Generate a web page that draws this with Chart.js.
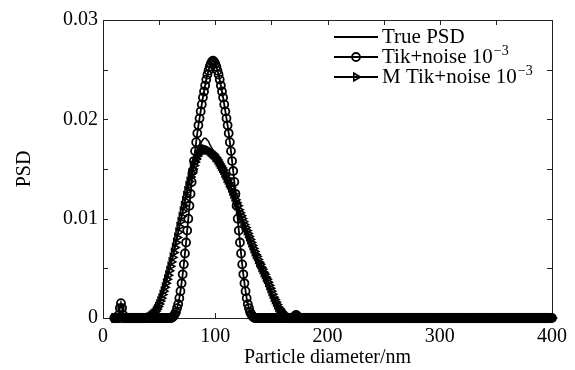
<!DOCTYPE html>
<html>
<head>
<meta charset="utf-8">
<script src="https://cdn.jsdelivr.net/npm/chart.js@4.4.1/dist/chart.umd.min.js"></script>
<style>
  body { margin: 0; background: #fff; }
  #wrap { width: 575px; height: 370px; }
</style>
</head>
<body>
<div id="wrap"><canvas id="psdChart" width="575" height="370"></canvas></div>
<script>
// particle diameter grid (nm)
const diameters = [
  10,11,12,13,14,15,16,17,18,19, 20,21,22,23,24,25,26,27,28,29,
  30,31,32,33,34,35,36,37,38,39, 40,41,42,43,44,45,46,47,48,49,
  50,51,52,53,54,55,56,57,58,59, 60,61,62,63,64,65,66,67,68,69,
  70,71,72,73,74,75,76,77,78,79, 80,81,82,83,84,85,86,87,88,89,
  90,91,92,93,94,95,96,97,98,99, 100,101,102,103,104,105,106,107,108,109,
  110,111,112,113,114,115,116,117,118,119, 120,121,122,123,124,125,126,127,128,129,
  130,131,132,133,134,135,136,137,138,139, 140,141,142,143,144,145,146,147,148,149,
  150,151,152,153,154,155,156,157,158,159, 160,161,162,163,164,165,166,167,168,169,
  170,171,172,173,174,175,176,177,178,179, 180,181,182,183,184,185,186,187,188,189,
  190,191,192,193,194,195,196,197,198,199, 200,201,202,203,204,205,206,207,208,209,
  210,211,212,213,214,215,216,217,218,219, 220,221,222,223,224,225,226,227,228,229,
  230,231,232,233,234,235,236,237,238,239, 240,241,242,243,244,245,246,247,248,249,
  250,251,252,253,254,255,256,257,258,259, 260,261,262,263,264,265,266,267,268,269,
  270,271,272,273,274,275,276,277,278,279, 280,281,282,283,284,285,286,287,288,289,
  290,291,292,293,294,295,296,297,298,299, 300,301,302,303,304,305,306,307,308,309,
  310,311,312,313,314,315,316,317,318,319, 320,321,322,323,324,325,326,327,328,329,
  330,331,332,333,334,335,336,337,338,339, 340,341,342,343,344,345,346,347,348,349,
  350,351,352,353,354,355,356,357,358,359, 360,361,362,363,364,365,366,367,368,369,
  370,371,372,373,374,375,376,377,378,379, 380,381,382,383,384,385,386,387,388,389,
  390,391,392,393,394,395,396,397,398,399, 400
];

const truePsd = [
  0,0,0,0,0,0,0,0,0,0,  // 10
  0,0,0,0,0,0,0,0,0,0,  // 20
  0,0,0,0,0,0,0,0,0,0,  // 30
  0,0.00005,0.0001,0.0002,0.0003,0.0004,0.0005,0.0007,0.0009,0.00115,  // 40
  0.0014,0.0017,0.0020,0.00235,0.0027,0.0031,0.0035,0.0039,0.0043,0.00475,  // 50
  0.0052,0.00565,0.0061,0.0066,0.0071,0.0076,0.0081,0.00865,0.0092,0.0097,  // 60
  0.0102,0.01075,0.0113,0.0118,0.0123,0.0128,0.0133,0.01375,0.0142,0.0146,  // 70
  0.0150,0.01535,0.0157,0.0160,0.0166,0.0169,0.0173,0.0175,0.0178,0.01795,  // 80
  0.0181,0.0181,0.01805,0.0179,0.0178,0.0175,0.0173,0.0171,0.0169,0.0167,  // 90
  0.0164,0.0162,0.0159,0.0157,0.0155,0.0153,0.0151,0.0149,0.0146,0.0144,  // 100
  0.0141,0.0139,0.0136,0.0134,0.0131,0.0128,0.0125,0.0122,0.0119,0.0116,  // 110
  0.0113,0.0109,0.0106,0.0103,0.0100,0.0097,0.0094,0.0091,0.0088,0.0085,  // 120
  0.0082,0.0079,0.0076,0.0073,0.0070,0.0067,0.0064,0.0062,0.0059,0.0056,  // 130
  0.0054,0.0051,0.0049,0.0046,0.0044,0.0041,0.0039,0.0036,0.0033,0.0030,  // 140
  0.0027,0.0024,0.0021,0.00185,0.0016,0.00135,0.0011,0.00095,0.0008,0.00065,  // 150
  0.0005,0.0004,0.0003,0.0002,0.0001,0.00005,0,0,0,0,  // 160
  0,0,0,0,0,0,0,0,0,0,  // 170
  0,0,0,0,0,0,0,0,0,0,  // 180
  0,0,0,0,0,0,0,0,0,0,  // 190
  0,0,0,0,0,0,0,0,0,0,  // 200
  0,0,0,0,0,0,0,0,0,0,  // 210
  0,0,0,0,0,0,0,0,0,0,  // 220
  0,0,0,0,0,0,0,0,0,0,  // 230
  0,0,0,0,0,0,0,0,0,0,  // 240
  0,0,0,0,0,0,0,0,0,0,  // 250
  0,0,0,0,0,0,0,0,0,0,  // 260
  0,0,0,0,0,0,0,0,0,0,  // 270
  0,0,0,0,0,0,0,0,0,0,  // 280
  0,0,0,0,0,0,0,0,0,0,  // 290
  0,0,0,0,0,0,0,0,0,0,  // 300
  0,0,0,0,0,0,0,0,0,0,  // 310
  0,0,0,0,0,0,0,0,0,0,  // 320
  0,0,0,0,0,0,0,0,0,0,  // 330
  0,0,0,0,0,0,0,0,0,0,  // 340
  0,0,0,0,0,0,0,0,0,0,  // 350
  0,0,0,0,0,0,0,0,0,0,  // 360
  0,0,0,0,0,0,0,0,0,0,  // 370
  0,0,0,0,0,0,0,0,0,0,  // 380
  0,0,0,0,0,0,0,0,0,0,  // 390
  0
];

const tikNoise = [
  0,0,0,0,0.0003,0.0010,0.0015,0.0010,0.0003,0,  // 10
  0,0,0,0,0,0,0,0,0,0,  // 20
  0,0,0,0,0,0,0,0,0,0,  // 30
  0,0,0,0,0,0,0,0,0,0,  // 40
  0,0,0,0,0,0,0,0,0,0,  // 50
  0,0,0.0001,0.0002,0.0004,0.0006,0.0010,0.0014,0.0020,0.0027,  // 60
  0.0035,0.0044,0.0054,0.0065,0.0076,0.0088,0.0100,0.0113,0.0125,0.0137,  // 70
  0.0148,0.0158,0.0168,0.0177,0.0186,0.0194,0.0201,0.0208,0.0215,0.0222,  // 80
  0.0228,0.0234,0.0240,0.0245,0.0249,0.0253,0.0256,0.0258,0.0259,0.0258,  // 90
  0.0256,0.0253,0.0249,0.0245,0.0240,0.0234,0.0228,0.0222,0.0215,0.0208,  // 100
  0.0201,0.0194,0.0186,0.0177,0.0168,0.0158,0.0148,0.0137,0.0125,0.0113,  // 110
  0.0100,0.0088,0.0076,0.0065,0.0054,0.0044,0.0035,0.0027,0.0020,0.0014,  // 120
  0.0010,0.0006,0.0004,0.0002,0.0001,0,0,0,0,0,  // 130
  0,0,0,0,0,0,0,0,0,0,  // 140
  0,0,0,0,0,0,0,0,0,0,  // 150
  0,0,0,0,0,0,0,0,0,0,  // 160
  0,0.0002,0.0003,0.0002,0,0,0,0,0,0,  // 170
  0,0,0,0,0,0,0,0,0,0,  // 180
  0,0,0,0,0,0,0,0,0,0,  // 190
  0,0,0,0,0,0,0,0,0,0,  // 200
  0,0,0,0,0,0,0,0,0,0,  // 210
  0,0,0,0,0,0,0,0,0,0,  // 220
  0,0,0,0,0,0,0,0,0,0,  // 230
  0,0,0,0,0,0,0,0,0,0,  // 240
  0,0,0,0,0,0,0,0,0,0,  // 250
  0,0,0,0,0,0,0,0,0,0,  // 260
  0,0,0,0,0,0,0,0,0,0,  // 270
  0,0,0,0,0,0,0,0,0,0,  // 280
  0,0,0,0,0,0,0,0,0,0,  // 290
  0,0,0,0,0,0,0,0,0,0,  // 300
  0,0,0,0,0,0,0,0,0,0,  // 310
  0,0,0,0,0,0,0,0,0,0,  // 320
  0,0,0,0,0,0,0,0,0,0,  // 330
  0,0,0,0,0,0,0,0,0,0,  // 340
  0,0,0,0,0,0,0,0,0,0,  // 350
  0,0,0,0,0,0,0,0,0,0,  // 360
  0,0,0,0,0,0,0,0,0,0,  // 370
  0,0,0,0,0,0,0,0,0,0,  // 380
  0,0,0,0,0,0,0,0,0,0,  // 390
  0
];

const mTikNoise = [
  0,0,0,0,0,0,0,0,0,0,  // 10
  0,0,0,0,0,0,0,0,0,0,  // 20
  0,0,0,0,0,0,0,0,0,0,  // 30
  0,0.00005,0.0001,0.0002,0.0003,0.0004,0.0005,0.0007,0.0009,0.00115,  // 40
  0.0014,0.0017,0.0020,0.00235,0.0027,0.0031,0.0035,0.0039,0.0043,0.00475,  // 50
  0.0052,0.00565,0.0061,0.0066,0.0071,0.0076,0.0081,0.00865,0.0092,0.0097,  // 60
  0.0102,0.01075,0.0113,0.0118,0.0123,0.0128,0.0133,0.01375,0.0142,0.0146,  // 70
  0.0150,0.01535,0.0157,0.0160,0.0163,0.0165,0.0167,0.0168,0.0169,0.01695,  // 80
  0.0170,0.0170,0.01695,0.0169,0.0169,0.0168,0.0167,0.0166,0.0165,0.0164,  // 90
  0.0162,0.0161,0.0159,0.0157,0.0155,0.0153,0.0151,0.0149,0.0146,0.0144,  // 100
  0.0141,0.0139,0.0136,0.0134,0.0131,0.0128,0.0125,0.0122,0.0119,0.0116,  // 110
  0.0113,0.0109,0.0106,0.0103,0.0100,0.0097,0.0094,0.0091,0.0088,0.0085,  // 120
  0.0082,0.0079,0.0076,0.0073,0.0070,0.0067,0.0064,0.0062,0.0059,0.0056,  // 130
  0.0054,0.0051,0.0049,0.0046,0.0044,0.0041,0.0039,0.0036,0.0033,0.0030,  // 140
  0.0027,0.0024,0.0021,0.00185,0.0016,0.00135,0.0011,0.00095,0.0008,0.00065,  // 150
  0.0005,0.0004,0.0003,0.0002,0.0001,0.00005,0,0,0,0,  // 160
  0,0,0,0,0,0,0,0,0,0,  // 170
  0,0,0,0,0,0,0,0,0,0,  // 180
  0,0,0,0,0,0,0,0,0,0,  // 190
  0,0,0,0,0,0,0,0,0,0,  // 200
  0,0,0,0,0,0,0,0,0,0,  // 210
  0,0,0,0,0,0,0,0,0,0,  // 220
  0,0,0,0,0,0,0,0,0,0,  // 230
  0,0,0,0,0,0,0,0,0,0,  // 240
  0,0,0,0,0,0,0,0,0,0,  // 250
  0,0,0,0,0,0,0,0,0,0,  // 260
  0,0,0,0,0,0,0,0,0,0,  // 270
  0,0,0,0,0,0,0,0,0,0,  // 280
  0,0,0,0,0,0,0,0,0,0,  // 290
  0,0,0,0,0,0,0,0,0,0,  // 300
  0,0,0,0,0,0,0,0,0,0,  // 310
  0,0,0,0,0,0,0,0,0,0,  // 320
  0,0,0,0,0,0,0,0,0,0,  // 330
  0,0,0,0,0,0,0,0,0,0,  // 340
  0,0,0,0,0,0,0,0,0,0,  // 350
  0,0,0,0,0,0,0,0,0,0,  // 360
  0,0,0,0,0,0,0,0,0,0,  // 370
  0,0,0,0,0,0,0,0,0,0,  // 380
  0,0,0,0,0,0,0,0,0,0,  // 390
  0
];

const seriesNames = ['True PSD', 'Tik+noise 10', 'M Tik+noise 10'];
const seriesSup = ['', '\u22123', '\u22123'];
const xLabelled = [0, 100, 200, 300, 400];
const yLabelled = [0, 0.01, 0.02, 0.03];

const serif = '"Liberation Serif", "Times New Roman", serif';
const toPoints = vals => diameters.map((d, i) => ({ x: d, y: vals[i] }));

// MATLAB-like box with inward ticks on all four sides
const boxTicks = {
  id: 'boxTicks',
  beforeDatasetsDraw(chart) {
    const { ctx, chartArea: a, scales: { x, y } } = chart;
    ctx.save();
    ctx.strokeStyle = '#222';
    ctx.lineWidth = 1;
    ctx.strokeRect(a.left + 0.5, a.top + 0.5, a.right - a.left, a.bottom - a.top);
    ctx.beginPath();
    x.ticks.forEach(t => {
      const px = Math.round(x.getPixelForValue(t.value)) + 0.5;
      ctx.moveTo(px, a.bottom); ctx.lineTo(px, a.bottom - 5);
      ctx.moveTo(px, a.top); ctx.lineTo(px, a.top + 5);
    });
    y.ticks.forEach(t => {
      const py = Math.round(y.getPixelForValue(t.value)) + 0.5;
      ctx.moveTo(a.left, py); ctx.lineTo(a.left + 5, py);
      ctx.moveTo(a.right, py); ctx.lineTo(a.right - 5, py);
    });
    ctx.stroke();
    ctx.restore();
  }
};

// legend inside the plot: line sample with marker in the middle
const lineLegend = {
  id: 'lineLegend',
  afterDraw(chart) {
    const { ctx, chartArea: a } = chart;
    const x0 = a.right - 218, x1 = x0 + 44, tx = x1 + 4;
    ctx.save();
    chart.data.datasets.forEach((ds, i) => {
      const y = a.top + 17 + i * 20;
      ctx.strokeStyle = '#000';
      ctx.lineWidth = 1.8;
      ctx.beginPath();
      ctx.moveTo(x0, y); ctx.lineTo(x1, y);
      ctx.stroke();
      if (ds.pointRadius > 0) {
        ctx.fillStyle = 'rgba(0,0,0,0)';
        ctx.lineWidth = ds.pointBorderWidth;
        Chart.helpers.drawPoint(ctx, {
          pointStyle: ds.pointStyle,
          radius: ds.pointRadius,
          rotation: ds.pointRotation || 0,
          borderWidth: ds.pointBorderWidth
        }, (x0 + x1) / 2, y);
      }
      ctx.fillStyle = '#000';
      ctx.textBaseline = 'middle';
      ctx.textAlign = 'left';
      ctx.font = '21px ' + serif;
      ctx.fillText(seriesNames[i], tx, y);
      if (seriesSup[i]) {
        const w = ctx.measureText(seriesNames[i]).width;
        ctx.font = '14px ' + serif;
        ctx.fillText(seriesSup[i], tx + w + 1, y - 6);
      }
    });
    ctx.restore();
  }
};

const isLabelled = (v, list) => list.some(l => Math.abs(l - v) < 1e-9);

new Chart(document.getElementById('psdChart'), {
  type: 'line',
  data: {
    datasets: [{
      label: seriesNames[0],
      data: toPoints(truePsd),
      borderColor: '#000',
      borderWidth: 1.5,
      pointRadius: 0,
      clip: false
    }, {
      label: seriesNames[1],
      data: toPoints(tikNoise),
      borderColor: '#000',
      borderWidth: 1.8,
      pointStyle: 'circle',
      pointRadius: 4,
      pointBorderWidth: 1.8,
      pointBorderColor: '#000',
      pointBackgroundColor: 'rgba(0,0,0,0)',
      clip: false
    }, {
      label: seriesNames[2],
      data: toPoints(mTikNoise),
      borderColor: '#000',
      borderWidth: 1.8,
      pointStyle: 'triangle',
      pointRotation: 90,
      pointRadius: 4.4,
      pointBorderWidth: 1.6,
      pointBorderColor: '#000',
      pointBackgroundColor: 'rgba(0,0,0,0)',
      clip: false
    }]
  },
  options: {
    responsive: false,
    animation: false,
    events: [],
    layout: { padding: { top: 20, right: 23, bottom: 0, left: 0 } },
    plugins: { legend: { display: false }, tooltip: { enabled: false } },
    scales: {
      x: {
        type: 'linear',
        min: 0,
        max: 400,
        afterFit: s => { s.height = 52; },
        grid: { display: false, drawTicks: false },
        border: { display: false },
        ticks: {
          stepSize: 50,
          autoSkip: false,
          maxRotation: 0,
          padding: 7,
          color: '#000',
          font: { family: serif, size: 20 },
          callback: v => isLabelled(v, xLabelled) ? String(v) : ''
        },
        title: {
          display: true,
          text: 'Particle diameter/nm',
          color: '#000',
          font: { family: serif, size: 20 },
          padding: { top: 0, bottom: 0 }
        }
      },
      y: {
        min: 0,
        max: 0.03,
        afterFit: s => { s.width = 103; },
        grid: { display: false, drawTicks: false },
        border: { display: false },
        ticks: {
          stepSize: 0.005,
          autoSkip: false,
          padding: 5,
          color: '#000',
          font: { family: serif, size: 20 },
          callback: v => isLabelled(v, yLabelled) ? (v === 0 ? '0' : v.toFixed(2)) : ''
        },
        title: {
          display: true,
          text: 'PSD',
          color: '#000',
          font: { family: serif, size: 20 },
          padding: { top: 13, bottom: 0 }
        }
      }
    }
  },
  plugins: [boxTicks, lineLegend]
});
</script>
</body>
</html>
